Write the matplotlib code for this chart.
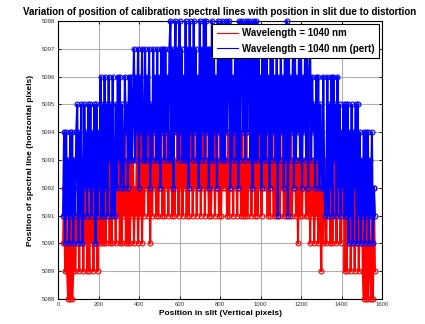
import numpy as np
import matplotlib
matplotlib.use("Agg")
import matplotlib.pyplot as plt
from matplotlib.lines import Line2D

plt.rcParams["font.family"] = ["Liberation Sans", "DejaVu Sans"]

# Sampled slit positions (vertical pixels), one sample every 5 pixels
X_START = 25
X_STEP = 5

# Line position per sample, written as one digit per sample above a base pixel
RED_BASE = 5088
RED_DIGITS = (
    "24151030401513241524" "14251315241523142524" "25243526253425362425"
    "36252625352436253626" "35463625364536354635" "36453645363546364536"
    "46353647364535463647" "36453635463645363546" "45363546364536453635"
    "36354636453635463645" "45363645363546354636" "36453635463525363545"
    "35362535243526314253" "25342524352435243514" "14251324152413241040"
    "304103041"
)

BLUE_BASE = 5089
BLUE_DIGITS = (
    "25152415251425615261" "26352636253616253726" "27362746273263747364"
    "37563747468475837584" "48475836485748473858" "48574894837958495847"
    "49483958495847394859" "49583849485739584948" "49589384758483948958"
    "49589483948948573848" "48573848574827485738" "49284758384758483758"
    "48378475637473643732" "37263727462736253626" "26152615361625142515"
    "251425132"
)

XTICKS = [0, 200, 400, 600, 800, 1000, 1200, 1400, 1600]
YTICKS = list(range(5088, 5099))
LABELS = ["Wavelength = 1040 nm", "Wavelength = 1040 nm (pert)"]


def decode(digits, base):
    return np.array([base + int(d) for d in digits])


def main():
    red = decode(RED_DIGITS, RED_BASE)
    blue = decode(BLUE_DIGITS, BLUE_BASE)
    x_red = X_START + X_STEP * np.arange(len(red))
    x_blue = X_START + X_STEP * np.arange(len(blue))

    fig = plt.figure(figsize=(4.25, 3.24), dpi=100)
    ax = fig.add_axes([0.1365, 0.0772, 0.7624, 0.858])

    ax.plot(x_red, red, "-o", color="red", lw=1.5, ms=3.5, mfc="none",
            mew=0.8, clip_on=False, zorder=3)
    ax.plot(x_blue, blue, "-o", color="blue", lw=1.5, ms=3.5, mfc="none",
            mew=0.8, clip_on=False, zorder=4)

    ax.set_xlim(0, 1600)
    ax.set_ylim(5088, 5098)
    ax.set_xticks(XTICKS)
    ax.set_yticks(YTICKS)
    ax.ticklabel_format(useOffset=False, style="plain")
    ax.tick_params(direction="in", length=2.5, width=0.6, labelsize=4.3,
                   labelcolor="#333333", top=True, right=True, pad=2)
    ax.grid(True, color="#b0b0b0", lw=0.8)
    ax.set_axisbelow(True)
    for s in ax.spines.values():
        s.set_linewidth(0.8)

    ax.set_title("Variation of position of calibration spectral lines with position in slit due to distortion",
                 fontsize=7, fontweight="bold", pad=4)
    ax.set_xlabel("Position in slit (Vertical pixels)", fontsize=6, fontweight="bold", labelpad=2)
    ax.set_ylabel("Position of spectral line (horizontal pixels)", fontsize=6, fontweight="bold", labelpad=6)

    handles = [Line2D([], [], color="red", lw=0.8), Line2D([], [], color="blue", lw=0.8)]
    leg = ax.legend(handles, LABELS, loc="upper right", fontsize=7, frameon=True,
                    fancybox=False, framealpha=1, edgecolor="black",
                    borderaxespad=0.3, handlelength=2.2, handletextpad=0.4,
                    labelspacing=0.55, borderpad=0.45)
    leg.get_frame().set_linewidth(0.8)
    for t in leg.get_texts():
        t.set_fontweight("bold")
    leg.set_zorder(10)

    fig.savefig("out.png", dpi=100)


if __name__ == "__main__":
    main()
